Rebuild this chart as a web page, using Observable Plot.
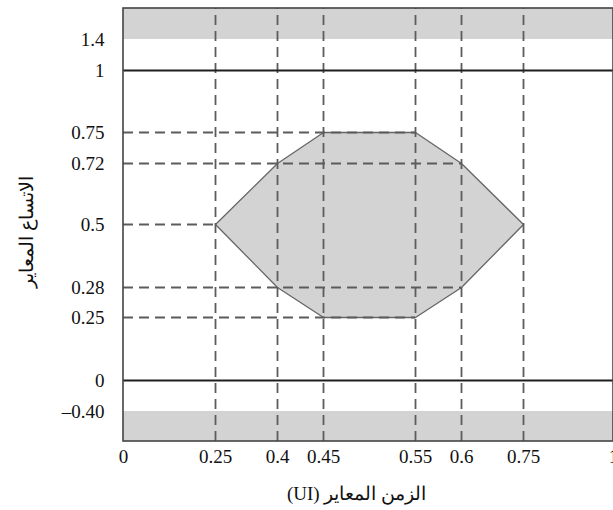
<!DOCTYPE html>
<html>
<head>
<meta charset="utf-8">
<script src="https://cdn.jsdelivr.net/npm/d3@7"></script>
<script src="https://cdn.jsdelivr.net/npm/@observablehq/plot@0.6"></script>
<style>
  html, body { margin: 0; padding: 0; background: #fff; overflow: hidden; }
</style>
</head>
<body>
<div id="chart"></div>
<script>
// ---- data ----
const xTicks = [0, 0.25, 0.4, 0.45, 0.55, 0.6, 0.75, 1];
const xTickLabels = ["0", "0.25", "0.4", "0.45", "0.55", "0.6", "0.75", "1"];
const yTicks = [-0.4, 0, 0.25, 0.28, 0.5, 0.72, 0.75, 1, 1.4];
const yTickLabels = ["\u20130.40", "0", "0.25", "0.28", "0.5", "0.72", "0.75", "1", "1.4"];

// eye-mask hexagon vertices (UI, normalised amplitude)
const maskX = [0.25, 0.4, 0.45, 0.55, 0.6, 0.75, 0.6, 0.55, 0.45, 0.4, 0.25];
const maskY = [0.5, 0.72, 0.75, 0.75, 0.72, 0.5, 0.28, 0.25, 0.25, 0.28, 0.5];

// dashed guides
const vGuides = [0.25, 0.4, 0.45, 0.55, 0.6, 0.75];
const hGuideLevels = [0.75, 0.72, 0.5, 0.28, 0.25];
const hGuideEnds = [0.55, 0.6, 0.25, 0.6, 0.55];

// solid rails
const rails = [0, 1];

// plot extent and forbidden bands
const xExtent = [0, 1];
const yExtent = [-0.8, 1.8];
const bandLow = [-0.8, -0.4];
const bandHigh = [1.4, 1.8];

const xLabel = "الزمن المعاير (UI)";
const yLabel = "الاتساع المعاير";

// ---- schematic (piecewise) scales: the figure is not drawn to linear scale ----
const xBreaks = [0, 0.25, 0.4, 0.45, 0.55, 0.6, 0.75, 1];
const xPix = [123, 215, 277, 323, 415, 461, 523, 613];
const yBreaks = [-0.8, -0.4, 0, 0.25, 0.28, 0.5, 0.72, 0.75, 1, 1.4, 1.8];
const yPix = [441, 411, 380, 317, 287, 224, 163, 132, 70, 39, 8];

const mask = maskX.map((x, i) => ({x, y: maskY[i]}));
const hGuides = hGuideLevels.map((y, i) => ({y, x1: xExtent[0], x2: hGuideEnds[i]}));
const bands = [bandLow, bandHigh].map(([y1, y2]) => ({x1: xExtent[0], x2: xExtent[1], y1, y2}));
const frame = [{x1: xExtent[0], x2: xExtent[1], y1: yExtent[0], y2: yExtent[1]}];

const dashColor = "#5c5c5c";

const chart = Plot.plot({
  width: 613,
  height: 510,
  marginLeft: 123,
  marginRight: 0,
  marginTop: 8,
  marginBottom: 69,
  style: {
    fontFamily: "'Liberation Serif', 'Times New Roman', serif",
    fontSize: "19px",
    background: "#fff",
    color: "#111",
    overflow: "hidden"
  },
  x: {type: "linear", domain: xBreaks, range: xPix},
  y: {type: "linear", domain: yBreaks, range: yPix},
  marks: [
    Plot.rect(bands, {x1: "x1", x2: "x2", y1: "y1", y2: "y2", fill: "#d3d3d3"}),
    Plot.line(mask, {x: "x", y: "y", fill: "#d3d3d3", stroke: "#666", strokeWidth: 1.3, curve: "linear-closed"}),
    Plot.ruleX(vGuides, {x: d => d, y1: yExtent[0], y2: yExtent[1], stroke: dashColor, strokeWidth: 1.8, strokeDasharray: "10,6"}),
    Plot.ruleY(hGuides, {y: "y", x1: "x1", x2: "x2", stroke: dashColor, strokeWidth: 1.8, strokeDasharray: "10,6"}),
    Plot.ruleY(rails, {y: d => d, x1: xExtent[0], x2: xExtent[1], stroke: "#1e1e1e", strokeWidth: 2}),
    Plot.rect(frame, {x1: "x1", x2: "x2", y1: "y1", y2: "y2", fill: "none", stroke: "#444", strokeWidth: 1.6}),
    Plot.axisX(xTicks, {
      tickSize: 0, tickPadding: 8,
      tickFormat: d => xTickLabels[xTicks.indexOf(d)],
      label: null
    }),
    Plot.axisY(yTicks, {
      tickSize: 0, tickPadding: 19,
      tickFormat: d => yTickLabels[yTicks.indexOf(d)],
      label: null
    }),
    Plot.text([xLabel], {text: d => d, frameAnchor: "bottom", textAnchor: "middle", lineAnchor: "middle", dy: 52, dx: -12}),
    Plot.text([yLabel], {text: d => d, frameAnchor: "left", textAnchor: "middle", lineAnchor: "middle", rotate: -90, dx: -97, dy: 7})
  ]
});

chart.querySelectorAll("text").forEach(t => {
  if (/[\u0600-\u06FF]/.test(t.textContent)) t.setAttribute("direction", "rtl");
});

document.getElementById("chart").appendChild(chart);
</script>
</body>
</html>
